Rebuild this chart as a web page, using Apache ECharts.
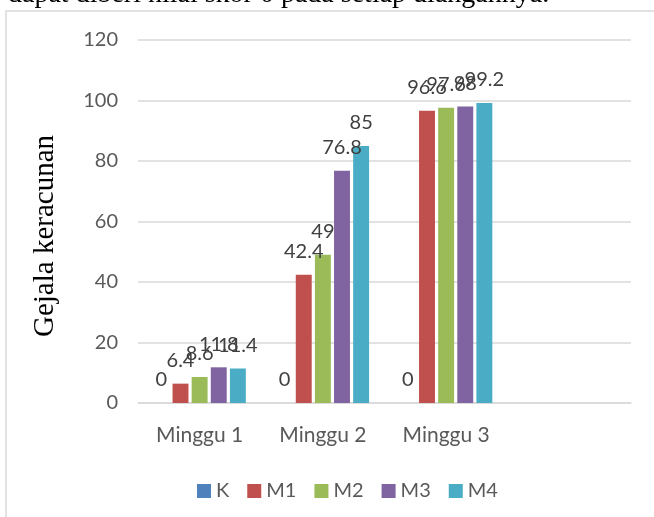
<!DOCTYPE html>
<html>
<head>
<meta charset="utf-8">
<script src="https://cdn.jsdelivr.net/npm/echarts@6/dist/echarts.min.js"></script>
<style>
  html, body { margin: 0; padding: 0; background: #fff; }
  #chart { width: 654px; height: 517px; }
</style>
</head>
<body>
<div id="chart"></div>
<script>
// data
var categories = ['Minggu 1', 'Minggu 2', 'Minggu 3', '']
var seriesNames = ['K', 'M1', 'M2', 'M3', 'M4']
var K = [0, 0, 0, null]
var M1 = [6.4, 42.4, 96.6, null]
var M2 = [8.6, 49, 97.6, null]
var M3 = [11.8, 76.8, 98, null]
var M4 = [11.4, 85, 99.2, null]
var colors = ['#4F81BD', '#C0504D', '#9BBB59', '#8064A2', '#4BACC6']

var sans = 'Lato, "Noto Sans", sans-serif'
var serif = '"Liberation Serif", "DejaVu Serif", serif'

var chart = echarts.init(document.getElementById('chart'))

var values = [K, M1, M2, M3, M4]
var series = values.map(function (d, i) {
  return {
    name: seriesNames[i],
    type: 'bar',
    data: d,
    barGap: '20%',
    barCategoryGap: '25%',
    itemStyle: { color: colors[i] },
    label: {
      show: true,
      position: 'top',
      distance: 13,
      color: '#404040',
      fontFamily: sans,
      fontSize: 20
    }
  }
})

chart.setOption({
  animation: false,
  color: colors,
  graphic: [
    {
      type: 'rect',
      shape: { x: 6, y: 11, width: 700, height: 600 },
      style: { fill: 'none', stroke: '#d9d9d9', lineWidth: 1.5 }
    },
    {
      type: 'text',
      x: 8,
      y: 9,
      style: {
        text: 'dapat diberi nilai skor 0 pada setiap ulangannya.',
        font: '28px ' + serif,
        fill: '#000',
        verticalAlign: 'bottom'
      }
    },
    {
      type: 'text',
      x: 45,
      y: 236,
      rotation: Math.PI / 2,
      style: {
        text: 'Gejala keracunan',
        font: '29px ' + serif,
        fill: '#000',
        align: 'center',
        verticalAlign: 'middle'
      }
    }
  ],
  grid: { left: 138, right: 23, top: 40, bottom: 114 },
  legend: {
    top: 476,
    left: 192,
    icon: 'rect',
    itemWidth: 14,
    itemHeight: 14,
    itemGap: 18,
    textStyle: { color: '#595959', fontFamily: sans, fontSize: 20 },
    data: seriesNames
  },
  xAxis: {
    type: 'category',
    data: categories,
    axisTick: { show: false },
    axisLine: { lineStyle: { color: '#d9d9d9', width: 1.5 } },
    axisLabel: { color: '#595959', fontFamily: sans, fontSize: 21, margin: 22 }
  },
  yAxis: {
    type: 'value',
    min: 0,
    max: 120,
    interval: 20,
    axisLine: { show: false },
    axisTick: { show: false },
    splitLine: { lineStyle: { color: '#d9d9d9', width: 1.5 } },
    axisLabel: { color: '#595959', fontFamily: sans, fontSize: 20, margin: 20 }
  },
  series: series
})
</script>
</body>
</html>
